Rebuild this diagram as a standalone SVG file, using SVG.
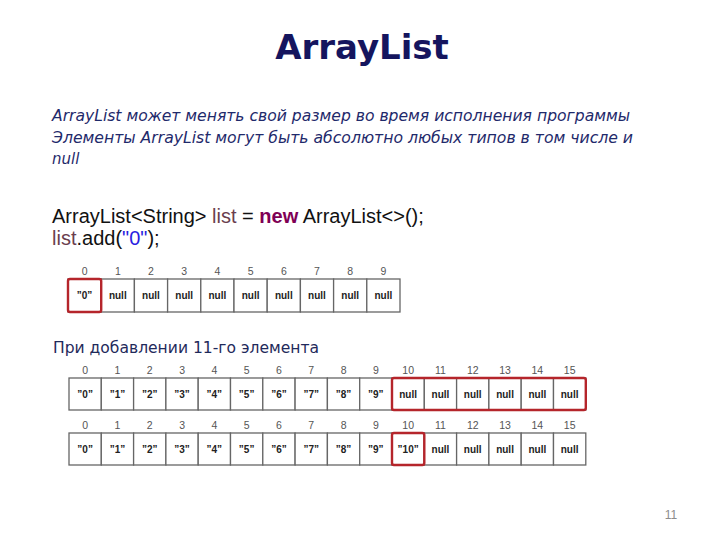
<svg xmlns="http://www.w3.org/2000/svg" width="720" height="540" viewBox="0 0 720 540">
<style>
.title{font-family:"DejaVu Sans",Verdana,sans-serif;font-weight:bold;font-size:34px;fill:#15155e}
.desc{font-family:"DejaVu Sans",Verdana,sans-serif;font-style:italic;font-size:15px;fill:#1f2a6b}
.code{font-family:"Liberation Sans",Arial,sans-serif;font-size:20px;fill:#111}
.var{fill:#6a3e4e}
.kw{fill:#7f0055;font-weight:bold}
.str{fill:#2a1ee0}
.sub{font-family:"DejaVu Sans",Verdana,sans-serif;font-size:15.5px;fill:#1f2a5b}
.page{font-family:"Liberation Sans",Arial,sans-serif;font-size:12px;fill:#8c8c8c}
.cell rect{fill:#fff;stroke:#666;stroke-width:1.3}
.cell text{font-family:"Liberation Sans",Arial,sans-serif;font-weight:bold;font-size:10px;fill:#222;text-anchor:middle}
.idx{font-family:"Liberation Sans",Arial,sans-serif;font-size:10.5px;fill:#555;text-anchor:middle}
.hl{fill:none;stroke:#b5252b;stroke-width:2.4}
</style>
<text class="title" x="362" y="59" text-anchor="middle">ArrayList</text>
<text class="desc" x="52" y="121" textLength="578" lengthAdjust="spacingAndGlyphs">ArrayList может менять свой размер во время исполнения программы</text>
<text class="desc" x="52" y="142.5" textLength="581" lengthAdjust="spacingAndGlyphs">Элементы ArrayList могут быть абсолютно любых типов в том числе и</text>
<text class="desc" x="52" y="164">null</text>
<text class="code" x="52" y="223">ArrayList&lt;String&gt; <tspan class="var">list</tspan> = <tspan class="kw">new</tspan> ArrayList&lt;&gt;();</text>
<text class="code" x="52" y="244.5"><tspan class="var">list</tspan>.add(<tspan class="str">"0"</tspan>);</text>
<text class="sub" x="53" y="353" textLength="266" lengthAdjust="spacingAndGlyphs">При добавлении 11-го элемента</text>
<text class="page" x="671" y="519" text-anchor="middle">11</text>

<g id="array1">
<g class="idx-labels">
<text class="idx" x="84.6" y="275">0</text><text class="idx" x="117.8" y="275">1</text><text class="idx" x="151" y="275">2</text><text class="idx" x="184.2" y="275">3</text><text class="idx" x="217.4" y="275">4</text><text class="idx" x="250.6" y="275">5</text><text class="idx" x="283.8" y="275">6</text><text class="idx" x="317" y="275">7</text><text class="idx" x="350.2" y="275">8</text><text class="idx" x="383.4" y="275">9</text>
</g>
<g id="a1c0" class="cell"><rect x="68" y="279" width="33.2" height="33"/><text x="84.6" y="299">”0”</text></g>
<g id="a1c1" class="cell"><rect x="101.2" y="279" width="33.2" height="33"/><text x="117.8" y="299">null</text></g>
<g id="a1c2" class="cell"><rect x="134.4" y="279" width="33.2" height="33"/><text x="151" y="299">null</text></g>
<g id="a1c3" class="cell"><rect x="167.6" y="279" width="33.2" height="33"/><text x="184.2" y="299">null</text></g>
<g id="a1c4" class="cell"><rect x="200.8" y="279" width="33.2" height="33"/><text x="217.4" y="299">null</text></g>
<g id="a1c5" class="cell"><rect x="234" y="279" width="33.2" height="33"/><text x="250.6" y="299">null</text></g>
<g id="a1c6" class="cell"><rect x="267.2" y="279" width="33.2" height="33"/><text x="283.8" y="299">null</text></g>
<g id="a1c7" class="cell"><rect x="300.4" y="279" width="33.2" height="33"/><text x="317" y="299">null</text></g>
<g id="a1c8" class="cell"><rect x="333.6" y="279" width="33.2" height="33"/><text x="350.2" y="299">null</text></g>
<g id="a1c9" class="cell"><rect x="366.8" y="279" width="33.2" height="33"/><text x="383.4" y="299">null</text></g>
<rect class="hl" x="68" y="279" width="33.2" height="33" rx="2"/>
</g>

<g id="array2">
<g class="idx-labels">
<text class="idx" x="85.15" y="373.5">0</text><text class="idx" x="117.45" y="373.5">1</text><text class="idx" x="149.75" y="373.5">2</text><text class="idx" x="182.05" y="373.5">3</text><text class="idx" x="214.35" y="373.5">4</text><text class="idx" x="246.65" y="373.5">5</text><text class="idx" x="278.95" y="373.5">6</text><text class="idx" x="311.25" y="373.5">7</text><text class="idx" x="343.55" y="373.5">8</text><text class="idx" x="375.85" y="373.5">9</text><text class="idx" x="408.15" y="373.5">10</text><text class="idx" x="440.45" y="373.5">11</text><text class="idx" x="472.75" y="373.5">12</text><text class="idx" x="505.05" y="373.5">13</text><text class="idx" x="537.35" y="373.5">14</text><text class="idx" x="569.65" y="373.5">15</text>
</g>
<g id="a2c0" class="cell"><rect x="69" y="378" width="32.3" height="32"/><text x="85.15" y="397.5">”0”</text></g>
<g id="a2c1" class="cell"><rect x="101.3" y="378" width="32.3" height="32"/><text x="117.45" y="397.5">”1”</text></g>
<g id="a2c2" class="cell"><rect x="133.6" y="378" width="32.3" height="32"/><text x="149.75" y="397.5">”2”</text></g>
<g id="a2c3" class="cell"><rect x="165.9" y="378" width="32.3" height="32"/><text x="182.05" y="397.5">”3”</text></g>
<g id="a2c4" class="cell"><rect x="198.2" y="378" width="32.3" height="32"/><text x="214.35" y="397.5">”4”</text></g>
<g id="a2c5" class="cell"><rect x="230.5" y="378" width="32.3" height="32"/><text x="246.65" y="397.5">”5”</text></g>
<g id="a2c6" class="cell"><rect x="262.8" y="378" width="32.3" height="32"/><text x="278.95" y="397.5">”6”</text></g>
<g id="a2c7" class="cell"><rect x="295.1" y="378" width="32.3" height="32"/><text x="311.25" y="397.5">”7”</text></g>
<g id="a2c8" class="cell"><rect x="327.4" y="378" width="32.3" height="32"/><text x="343.55" y="397.5">”8”</text></g>
<g id="a2c9" class="cell"><rect x="359.7" y="378" width="32.3" height="32"/><text x="375.85" y="397.5">”9”</text></g>
<g id="a2c10" class="cell"><rect x="392" y="378" width="32.3" height="32"/><text x="408.15" y="397.5">null</text></g>
<g id="a2c11" class="cell"><rect x="424.3" y="378" width="32.3" height="32"/><text x="440.45" y="397.5">null</text></g>
<g id="a2c12" class="cell"><rect x="456.6" y="378" width="32.3" height="32"/><text x="472.75" y="397.5">null</text></g>
<g id="a2c13" class="cell"><rect x="488.9" y="378" width="32.3" height="32"/><text x="505.05" y="397.5">null</text></g>
<g id="a2c14" class="cell"><rect x="521.2" y="378" width="32.3" height="32"/><text x="537.35" y="397.5">null</text></g>
<g id="a2c15" class="cell"><rect x="553.5" y="378" width="32.3" height="32"/><text x="569.65" y="397.5">null</text></g>
<rect class="hl" x="392" y="378" width="193.8" height="32" rx="2"/>
</g>

<g id="array3">
<g class="idx-labels">
<text class="idx" x="85.15" y="428.5">0</text><text class="idx" x="117.45" y="428.5">1</text><text class="idx" x="149.75" y="428.5">2</text><text class="idx" x="182.05" y="428.5">3</text><text class="idx" x="214.35" y="428.5">4</text><text class="idx" x="246.65" y="428.5">5</text><text class="idx" x="278.95" y="428.5">6</text><text class="idx" x="311.25" y="428.5">7</text><text class="idx" x="343.55" y="428.5">8</text><text class="idx" x="375.85" y="428.5">9</text><text class="idx" x="408.15" y="428.5">10</text><text class="idx" x="440.45" y="428.5">11</text><text class="idx" x="472.75" y="428.5">12</text><text class="idx" x="505.05" y="428.5">13</text><text class="idx" x="537.35" y="428.5">14</text><text class="idx" x="569.65" y="428.5">15</text>
</g>
<g id="a3c0" class="cell"><rect x="69" y="433" width="32.3" height="32"/><text x="85.15" y="452.5">”0”</text></g>
<g id="a3c1" class="cell"><rect x="101.3" y="433" width="32.3" height="32"/><text x="117.45" y="452.5">”1”</text></g>
<g id="a3c2" class="cell"><rect x="133.6" y="433" width="32.3" height="32"/><text x="149.75" y="452.5">”2”</text></g>
<g id="a3c3" class="cell"><rect x="165.9" y="433" width="32.3" height="32"/><text x="182.05" y="452.5">”3”</text></g>
<g id="a3c4" class="cell"><rect x="198.2" y="433" width="32.3" height="32"/><text x="214.35" y="452.5">”4”</text></g>
<g id="a3c5" class="cell"><rect x="230.5" y="433" width="32.3" height="32"/><text x="246.65" y="452.5">”5”</text></g>
<g id="a3c6" class="cell"><rect x="262.8" y="433" width="32.3" height="32"/><text x="278.95" y="452.5">”6”</text></g>
<g id="a3c7" class="cell"><rect x="295.1" y="433" width="32.3" height="32"/><text x="311.25" y="452.5">”7”</text></g>
<g id="a3c8" class="cell"><rect x="327.4" y="433" width="32.3" height="32"/><text x="343.55" y="452.5">”8”</text></g>
<g id="a3c9" class="cell"><rect x="359.7" y="433" width="32.3" height="32"/><text x="375.85" y="452.5">”9”</text></g>
<g id="a3c10" class="cell"><rect x="392" y="433" width="32.3" height="32"/><text x="408.15" y="452.5">”10”</text></g>
<g id="a3c11" class="cell"><rect x="424.3" y="433" width="32.3" height="32"/><text x="440.45" y="452.5">null</text></g>
<g id="a3c12" class="cell"><rect x="456.6" y="433" width="32.3" height="32"/><text x="472.75" y="452.5">null</text></g>
<g id="a3c13" class="cell"><rect x="488.9" y="433" width="32.3" height="32"/><text x="505.05" y="452.5">null</text></g>
<g id="a3c14" class="cell"><rect x="521.2" y="433" width="32.3" height="32"/><text x="537.35" y="452.5">null</text></g>
<g id="a3c15" class="cell"><rect x="553.5" y="433" width="32.3" height="32"/><text x="569.65" y="452.5">null</text></g>
<rect class="hl" x="392" y="433" width="32.3" height="32" rx="2"/>
</g>
<g id="connectors"/>
</svg>
